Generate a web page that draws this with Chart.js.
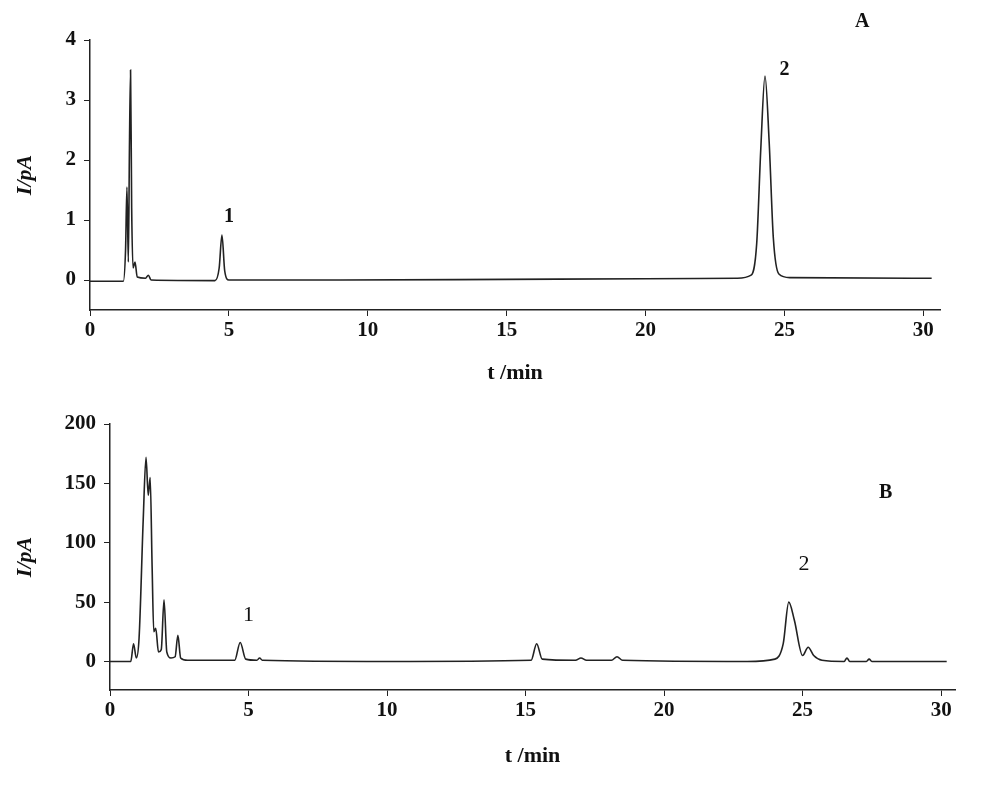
<!DOCTYPE html>
<html><head><meta charset="utf-8">
<script src="https://cdn.jsdelivr.net/npm/chart.js@4/dist/chart.umd.min.js"></script>
<style>
body{margin:0;background:#fff;width:988px;height:790px;overflow:hidden}
.box{position:absolute;left:0;width:988px;height:395px}
</style></head><body>
<div class="box" style="top:0"><canvas id="grafico_a"></canvas></div>
<div class="box" style="top:395px"><canvas id="grafico_b"></canvas></div>
<script>
// --=| Chromatogram A (time in min, current in pA)
let tempoA = [0, 1.2, 1.28, 1.33, 1.38, 1.42, 1.46, 1.5, 1.55, 1.62, 1.7, 2.0, 2.1, 2.2, 4.5, 4.65, 4.75, 4.85, 5.0, 9, 15, 20, 23.3, 23.8, 24.0, 24.15, 24.3, 24.45, 24.6, 24.8, 25.2, 30.3];
let correnteA = [-0.02, -0.02, 0.5, 1.55, 0.3, 2.2, 3.5, 1.2, 0.2, 0.3, 0.05, 0.03, 0.08, 0.0, -0.01, 0.2, 0.75, 0.15, 0.0, 0.0, 0.01, 0.02, 0.03, 0.08, 0.6, 2.2, 3.4, 2.3, 0.7, 0.1, 0.04, 0.03];

// --=| Chromatogram B
let tempoB = [0, 0.75, 0.85, 0.95, 1.05, 1.2, 1.3, 1.38, 1.45, 1.52, 1.58, 1.65, 1.75, 1.85, 1.95, 2.05, 2.2, 2.35, 2.45, 2.55, 2.8, 4.5, 4.7, 4.9, 5.3, 5.4, 5.5, 10, 15.2, 15.4, 15.6, 16.8, 17.0, 17.2, 18.1, 18.3, 18.5, 23.0, 24.0, 24.3, 24.5, 24.7, 25.0, 25.2, 25.4, 25.7, 26.5, 26.6, 26.7, 27.3, 27.4, 27.5, 30.2];
let correnteB = [0, 0, 15, 3, 20, 120, 172, 140, 155, 80, 25, 28, 8, 10, 52, 8, 3, 4, 22, 3, 1, 1, 16, 2, 1, 3, 1, 0, 1, 15, 2, 1, 3, 1, 1, 4, 1, 0, 2, 15, 50, 35, 5, 12, 5, 1, 0, 3, 0, 0, 2, 0, 0];

let ticksX = [0, 5, 10, 15, 20, 25, 30];
let ticksYA = [0, 1, 2, 3, 4];
let ticksYB = [0, 50, 100, 150, 200];

let fonteTick = { family: "Liberation Serif", size: 21, weight: "bold" };

function pontos(xs, ys) {
  return xs.map((x, i) => ({ x: x, y: ys[i] }));
}

let rotulos = {
  id: "rotulos",
  afterDraw(chart) {
    let ctx = chart.ctx;
    let sx = chart.scales.x, sy = chart.scales.y;
    ctx.save();
    ctx.fillStyle = "#111";
    ctx.textAlign = "center";
    ctx.textBaseline = "middle";
    chart.options.plugins.rotulos.itens.forEach(r => {
      ctx.font = r.fonte;
      ctx.fillText(r.t, sx.getPixelForValue(r.x), sy.getPixelForValue(r.y));
    });
    ctx.restore();
  },
};

function criar(id, xs, ys, yMin, yMax, xMax, ticksY, largY, altX, tituloPad, pad, itens) {
  return new Chart(document.getElementById(id), {
    type: "line",
    data: {
      datasets: [{
        data: pontos(xs, ys),
        borderColor: "#222",
        borderWidth: 1.6,
        pointRadius: 0,
        tension: 0.3,
        cubicInterpolationMode: "monotone",
      }],
    },
    options: {
      responsive: true,
      maintainAspectRatio: false,
      animation: false,
      layout: { padding: pad },
      scales: {
        x: {
          type: "linear", min: 0, max: xMax,
          afterBuildTicks: s => { s.ticks = ticksX.map(v => ({ value: v })); },
          afterFit: s => { s.height = altX; },
          grid: { display: true, drawOnChartArea: false, drawTicks: true, tickLength: 6, color: "#222" },
          border: { color: "#222", width: 1.5 },
          ticks: { color: "#111", font: fonteTick, padding: 2 },
          title: { display: true, text: "t /min", color: "#111", padding: { top: 4, bottom: tituloPad }, font: { family: "Liberation Serif", size: 22, weight: "bold" } },
        },
        y: {
          min: yMin, max: yMax,
          afterBuildTicks: s => { s.ticks = ticksY.map(v => ({ value: v })); },
          afterFit: s => { s.width = largY; },
          grid: { display: true, drawOnChartArea: false, drawTicks: true, tickLength: 6, color: "#222" },
          border: { color: "#222", width: 1.5 },
          ticks: { color: "#111", font: fonteTick, padding: 8 },
          title: { display: true, text: "I/pA", color: "#111", padding: { top: 0, bottom: 0 }, font: { family: "Liberation Serif", size: 22, weight: "bold", style: "italic" } },
        },
      },
      plugins: { legend: { display: false }, tooltip: { enabled: false }, rotulos: { itens: itens } },
    },
    plugins: [rotulos],
  });
}

criar("grafico_a", tempoA, correnteA, -0.5, 4, 30.6, ticksYA, 78, 85, 8,
  { top: 40, right: 48, left: 12, bottom: 0 },
  [
    { t: "A", x: 27.8, y: 4.3, fonte: "bold 20px Liberation Serif" },
    { t: "2", x: 25.0, y: 3.5, fonte: "bold 20px Liberation Serif" },
    { t: "1", x: 5.0, y: 1.05, fonte: "bold 20px Liberation Serif" },
  ]);

criar("grafico_b", tempoB, correnteB, -24, 200, 30.5, ticksYB, 98, 100, 20,
  { top: 29, right: 33, left: 12, bottom: 0 },
  [
    { t: "B", x: 28.0, y: 142, fonte: "bold 20px Liberation Serif" },
    { t: "2", x: 25.05, y: 82, fonte: "22px Liberation Serif" },
    { t: "1", x: 5.0, y: 39, fonte: "22px Liberation Serif" },
  ]);
</script>
</body></html>
